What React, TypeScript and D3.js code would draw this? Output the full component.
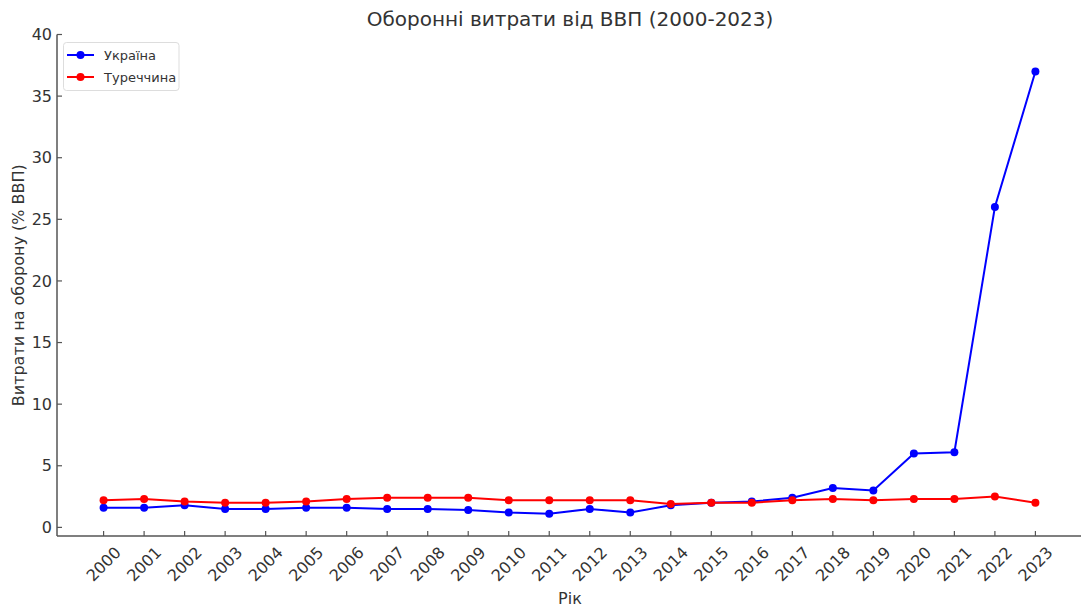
import React from "react";
import * as d3 from "d3";

const years = [2000,2001,2002,2003,2004,2005,2006,2007,2008,2009,2010,2011,2012,2013,2014,2015,2016,2017,2018,2019,2020,2021,2022,2023];
const ukraine = [1.6,1.6,1.8,1.5,1.5,1.6,1.6,1.5,1.5,1.4,1.2,1.1,1.5,1.2,1.8,2.0,2.1,2.4,3.2,3.0,6.0,6.1,26,37];
const turkey = [2.2,2.3,2.1,2.0,2.0,2.1,2.3,2.4,2.4,2.4,2.2,2.2,2.2,2.2,1.9,2.0,2.0,2.2,2.3,2.2,2.3,2.3,2.5,2.0];
const yTicks = [0,5,10,15,20,25,30,35,40];
const seriesNames = ["Україна", "Туреччина"];
const seriesColors = ["#0000ff", "#ff0000"];

const W = 1081, H = 608;
const left = 57, right = 1082, top = 34.5, bottom = 536;
const FONT = "'DejaVu Sans', sans-serif";
const TXT = "#333";
const AX = "#555";

export default function App() {
  const x = d3.scaleLinear().domain([1998.85, 2024.15]).range([left, right]);
  const y = d3.scaleLinear().domain([-0.7, 40]).range([bottom, top]);
  const line = d3.line<number>().x((_, i) => x(years[i])).y((d) => y(d));
  const series = [ukraine, turkey];
  return (
    <div style={{ position: "absolute", left: 0, top: 0 }}>
      <svg width={W} height={H} style={{ display: "block", background: "#fff" }} fontFamily={FONT}>
        <text x={570} y={26} textAnchor="middle" fontSize={20} fill={TXT}>Оборонні витрати від ВВП (2000-2023)</text>
        <line x1={left} x2={left} y1={top} y2={bottom} stroke={AX} strokeWidth={1.5} />
        <line x1={left} x2={W} y1={bottom} y2={bottom} stroke={AX} strokeWidth={1.5} />
        {yTicks.map((t) => (
          <g key={t}>
            <line x1={left} x2={left + 5} y1={y(t)} y2={y(t)} stroke={AX} strokeWidth={1.2} />
            <text x={left - 5} y={y(t)} dy="0.35em" textAnchor="end" fontSize={16} fill={TXT}>{t}</text>
          </g>
        ))}
        {years.map((yr) => (
          <g key={yr}>
            <line x1={x(yr)} x2={x(yr)} y1={bottom} y2={bottom - 5} stroke={AX} strokeWidth={1.2} />
            <text transform={`translate(${x(yr)},${bottom + 28}) rotate(-45)`} textAnchor="middle" dy="0.35em" fontSize={16} fill={TXT}>{yr}</text>
          </g>
        ))}
        <text x={570} y={604} textAnchor="middle" fontSize={16} fill={TXT}>Рік</text>
        <text transform={`translate(24,${(top + bottom) / 2}) rotate(-90)`} textAnchor="middle" fontSize={16} fill={TXT}>Витрати на оборону (% ВВП)</text>
        {series.map((s, k) => (
          <g key={k}>
            <path d={line(s) || ""} fill="none" stroke={seriesColors[k]} strokeWidth={2} />
            {s.map((v, i) => (
              <circle key={i} cx={x(years[i])} cy={y(v)} r={4} fill={seriesColors[k]} />
            ))}
          </g>
        ))}
        <rect x={63.5} y={42.5} width={115.5} height={48} rx={3} fill="#fff" fillOpacity={0.8} stroke="#ddd" strokeWidth={1} />
        {seriesNames.map((n, k) => (
          <g key={n}>
            <line x1={67} x2={94} y1={55 + k * 22} y2={55 + k * 22} stroke={seriesColors[k]} strokeWidth={2} />
            <circle cx={80.5} cy={55 + k * 22} r={4} fill={seriesColors[k]} />
            <text x={104} y={55 + k * 22} dy="0.35em" fontSize={13} fill={TXT}>{n}</text>
          </g>
        ))}
      </svg>
    </div>
  );
}
